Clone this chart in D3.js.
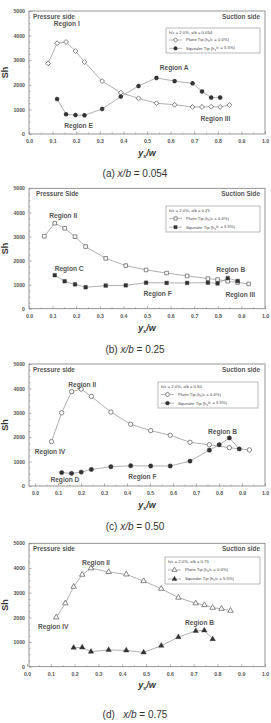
<!DOCTYPE html>
<html><head><meta charset="utf-8">
<script src="https://cdn.jsdelivr.net/npm/d3@7"></script>
<style>
html,body{margin:0;padding:0;background:#fff;}
svg{display:block;}
</style></head>
<body>
<svg id="c" width="271" height="723"></svg>
<script>
// ---------- data ----------
const xTicks = [0.0,0.1,0.2,0.3,0.4,0.5,0.6,0.7,0.8,0.9,1.0];
const yTicks = [0,1000,2000,3000,4000,5000];

const xA_plane = [0.081,0.119,0.157,0.197,0.235,0.310,0.389,0.464,0.540,0.617,0.693,0.733,0.772,0.810,0.849];
const shA_plane = [2870,3690,3740,3370,2930,2150,1680,1450,1250,1190,1100,1100,1110,1100,1180];
const xA_sq = [0.119,0.157,0.197,0.235,0.310,0.389,0.464,0.540,0.617,0.693,0.733,0.772,0.810];
const shA_sq = [1420,800,770,760,1020,1520,1950,2280,2150,2060,1730,1480,1480];

const xB_plane = [0.065,0.109,0.151,0.195,0.240,0.325,0.410,0.496,0.583,0.670,0.758,0.799,0.842,0.884,0.931];
const shB_plane = [3010,3550,3340,2990,2580,2090,1790,1610,1480,1360,1250,1210,1140,1090,1030];
const xB_sq = [0.109,0.151,0.195,0.240,0.325,0.410,0.496,0.583,0.670,0.758,0.799,0.842,0.884];
const shB_sq = [1390,1140,1010,890,960,970,1080,1070,1070,1080,1050,1270,1150];

const xC_plane = [0.072,0.116,0.159,0.201,0.245,0.330,0.416,0.503,0.588,0.674,0.758,0.845,0.932];
const shC_plane = [1820,3000,3870,3970,3670,3030,2530,2270,2080,1790,1690,1570,1480];
const xC_sq = [0.116,0.159,0.201,0.245,0.330,0.416,0.503,0.588,0.674,0.758,0.801,0.845,0.888];
const shC_sq = [550,520,570,680,790,830,820,820,1020,1470,1690,1970,1520];

const xD_plane = [0.123,0.161,0.196,0.232,0.269,0.343,0.417,0.490,0.564,0.636,0.709,0.745,0.780,0.817,0.855];
const shD_plane = [2000,2570,3240,3730,3990,3840,3740,3470,3160,2800,2570,2500,2390,2350,2270];
const xD_sq = [0.196,0.232,0.269,0.343,0.417,0.490,0.564,0.636,0.709,0.745,0.780];
const shD_sq = [770,780,610,680,660,580,850,1200,1450,1470,1120];

const xbValues = ["0.054","0.25","0.50","0.75"];
const panelLetters = ["a","b","c","d"];
const sideLabels = [["Pressure side","Suction side"],["Pressure Side","Suction Side"],["Pressure side","Suction side"],["Pressure side","Suction side"]];
const regionTexts = [
  [["Region I",0.16,4500],["Region A",0.615,2700],["Region E",0.21,330],["Region III",0.79,620]],
  [["Region II",0.145,3880],["Region C",0.17,1680],["Region B",0.855,1610],["Region F",0.545,620],["Region III",0.895,590]],
  [["Region II",0.205,4160],["Region IV",0.065,1420],["Region B",0.815,2230],["Region F",0.467,400],["Region D",0.13,250]],
  [["Region II",0.29,4230],["Region IV",0.11,1630],["Region B",0.725,1780]]
];

// ---------- layout ----------
const panels = [
  {top:11,   bottom:134,   x0:29,   xp:xA_plane, yp:shA_plane, xs:xA_sq, ys:shA_sq, sym:"diamond",
   leg:{x:166,y:28,w:94,h:25}, cap:173, ttl:153, tk:141},
  {top:188.3,bottom:308.7, x0:29,   xp:xB_plane, yp:shB_plane, xs:xB_sq, ys:shB_sq, sym:"square",
   leg:{x:166,y:206,w:94,h:26}, cap:349, ttl:328, tk:316},
  {top:364,  bottom:486,   x0:35,   xp:xC_plane, yp:shC_plane, xs:xC_sq, ys:shC_sq, sym:"circle",
   leg:{x:158,y:382,w:100,h:26}, cap:526, ttl:505, tk:493},
  {top:543.3,bottom:666.7, x0:27,   xp:xD_plane, yp:shD_plane, xs:xD_sq, ys:shD_sq, sym:"triangle",
   leg:{x:165,y:557,w:95,h:27}, cap:714, ttl:685, tk:674}
];
const frameL = 29, frameR = 265;
const lineCol = "#9a9a9a", darkCol = "#333", openStroke = "#6a6a6a", textCol = "#555";

const svg = d3.select("#c");

function drawSymbol(g, type, cx, cy, filled, scale) {
  const s = scale || 1;
  const fill = filled ? darkCol : "#fff";
  const stroke = filled ? darkCol : openStroke;
  if (type === "diamond") {
    if (filled) {
      g.append("path").attr("d", d3.symbol(d3.symbolCross, 11 * s)())
        .attr("transform", `translate(${cx},${cy})`).attr("fill", fill);
      g.append("path").attr("d", d3.symbol(d3.symbolCross, 11 * s)())
        .attr("transform", `translate(${cx},${cy}) rotate(45)`).attr("fill", fill);
      return;
    }
    g.append("path").attr("d", d3.symbol(d3.symbolSquare, 12 * s)()).attr("transform", `translate(${cx},${cy}) rotate(45)`)
      .attr("fill", fill).attr("stroke", stroke).attr("stroke-width", 0.8);
    return;
  }
  const t = type === "square" ? d3.symbolSquare : type === "circle" ? d3.symbolCircle : d3.symbolTriangle;
  const size = (type === "square" ? 13 : type === "circle" ? 15 : 13) * s;
  g.append("path").attr("d", d3.symbol(t, size)()).attr("transform", `translate(${cx},${cy})`)
    .attr("fill", fill).attr("stroke", stroke).attr("stroke-width", filled ? 0.4 : 0.8);
}

panels.forEach((p, i) => {
  const x = d3.scaleLinear().domain([0, 1]).range([p.x0, frameR]);
  const y = d3.scaleLinear().domain([0, 5000]).range([p.bottom, p.top]);
  const g = svg.append("g");
  const tf = "Liberation Sans, Arial, sans-serif";

  g.append("rect").attr("x", frameL).attr("y", p.top).attr("width", frameR - frameL)
    .attr("height", p.bottom - p.top).attr("fill", "none").attr("stroke", "#7a7a7a").attr("stroke-width", 0.8);

  const xAxis = d3.axisBottom(x).tickValues(xTicks).tickFormat(d3.format(".1f")).tickSize(-2.5).tickPadding(4);
  const xa = g.append("g").attr("transform", `translate(0,${p.bottom})`).call(xAxis);
  xa.select(".domain").remove();
  xa.selectAll("line").attr("stroke", "#7a7a7a").attr("stroke-width", 0.6);
  xa.selectAll("text").attr("fill", "#555").attr("font-size", 5.2).attr("font-family", tf)
    .attr("font-weight", "bold").attr("y", p.tk - p.bottom).attr("dy", "0.35em");
  const xm = g.append("g").attr("transform", `translate(0,${p.bottom})`)
    .call(d3.axisBottom(x).tickValues(d3.range(0.05, 1, 0.1)).tickSize(-1.5).tickFormat(""));
  xm.select(".domain").remove();
  xm.selectAll("line").attr("stroke", "#7a7a7a").attr("stroke-width", 0.5);

  const yAxis = d3.axisLeft(y).tickValues(yTicks).tickFormat(d3.format("d")).tickSize(-2.5).tickPadding(4);
  const ya = g.append("g").attr("transform", `translate(${frameL},0)`).call(yAxis);
  ya.select(".domain").remove();
  ya.selectAll("line").attr("stroke", "#7a7a7a").attr("stroke-width", 0.6);
  ya.selectAll("text").attr("fill", "#555").attr("font-size", 5.2).attr("font-family", tf).attr("font-weight", "bold");
  const ym = g.append("g").attr("transform", `translate(${frameL},0)`)
    .call(d3.axisLeft(y).tickValues(d3.range(250, 5000, 250).filter(v => v % 1000 !== 0)).tickSize(-1.5).tickFormat(""));
  ym.select(".domain").remove();
  ym.selectAll("line").attr("stroke", "#7a7a7a").attr("stroke-width", 0.5);

  g.append("text").attr("transform", `translate(8,${(p.top + p.bottom) / 2}) rotate(-90)`)
    .attr("text-anchor", "middle").attr("font-size", 9).attr("font-weight", "bold")
    .attr("font-family", tf).attr("fill", "#333").text("Sh");

  const xt = g.append("text").attr("x", 147).attr("y", p.ttl).attr("text-anchor", "middle")
    .attr("font-size", 9).attr("font-weight", "bold").attr("font-style", "italic")
    .attr("font-family", tf).attr("fill", "#333").attr("dy", "0.35em");
  xt.append("tspan").text("y");
  xt.append("tspan").attr("font-size", 5.5).attr("dy", "0.3em").text("s");
  xt.append("tspan").attr("dy", "-0.2em").text("/w");

  const line = d3.line().x(d => x(d[0])).y(d => y(d[1]));
  const plane = p.xp.map((v, k) => [v, p.yp[k]]);
  const sq = p.xs.map((v, k) => [v, p.ys[k]]);
  g.append("path").attr("d", line(plane)).attr("fill", "none").attr("stroke", lineCol).attr("stroke-width", 0.8);
  g.append("path").attr("d", line(sq)).attr("fill", "none").attr("stroke", lineCol).attr("stroke-width", 0.8);
  plane.forEach(d => drawSymbol(g, p.sym, x(d[0]), y(d[1]), false));
  sq.forEach(d => drawSymbol(g, p.sym, x(d[0]), y(d[1]), true));

  g.append("text").attr("x", i === 1 ? 36 : 33).attr("y", p.top + 7.5).attr("font-size", 6.4).attr("font-weight", "bold")
    .attr("font-family", tf).attr("fill", textCol).text(sideLabels[i][0]);
  g.append("text").attr("x", 260).attr("y", p.top + 8).attr("text-anchor", "end").attr("font-size", 6.4).attr("font-weight", "bold")
    .attr("font-family", tf).attr("fill", textCol).text(sideLabels[i][1]);

  regionTexts[i].forEach(r => {
    g.append("text").attr("x", x(r[1])).attr("y", y(r[2])).attr("text-anchor", "middle").attr("dy", "0.35em")
      .attr("font-size", 6.6).attr("font-weight", "bold").attr("font-family", tf).attr("fill", textCol).text(r[0]);
  });

  const L = p.leg;
  g.append("rect").attr("x", L.x).attr("y", L.y).attr("width", L.w).attr("height", L.h)
    .attr("fill", "#fff").attr("stroke", "#8a8a8a").attr("stroke-width", 0.6);
  const lh = L.h / 3;
  g.append("text").attr("x", L.x + 3).attr("y", L.y + lh * 0.55).attr("dy", "0.35em")
    .attr("font-size", 4.2).attr("font-family", tf).attr("fill", "#444").text(`h/c = 2.0%, x/b = ${xbValues[i]}`);
  [["Plane Tip", "0.0%", false], ["Squealer Tip", "5.5%", true]].forEach((e, k) => {
    const ly = L.y + lh * (1.5 + k) - 0.5;
    g.append("line").attr("x1", L.x + 3).attr("x2", L.x + 16).attr("y1", ly).attr("y2", ly)
      .attr("stroke", lineCol).attr("stroke-width", 0.7);
    drawSymbol(g, p.sym, L.x + 9.5, ly, e[2], 0.8);
    const tt = g.append("text").attr("x", L.x + 20).attr("y", ly).attr("dy", "0.35em")
      .attr("font-size", 4.2).attr("font-family", tf).attr("fill", "#444");
    tt.append("tspan").text(`${e[0]} (h`);
    tt.append("tspan").attr("font-size", 3).attr("dy", "0.3em").text("s");
    tt.append("tspan").attr("dy", "-0.3em").text(`/c = ${e[1]})`);
  });

  const cap = g.append("text").attr("x", 135).attr("y", p.cap).attr("text-anchor", "middle").attr("dy", "0.35em")
    .attr("font-size", 10).attr("font-family", "Liberation Sans Narrow, Liberation Sans, Arial, sans-serif").attr("fill", "#333");
  cap.append("tspan").text(`(${panelLetters[i]})${i === 3 ? "\u00a0\u00a0 " : " "}`);
  cap.append("tspan").attr("font-style", "italic").text("x/b");
  cap.append("tspan").text(` = ${xbValues[i]}`);
});
</script>
</body></html>
